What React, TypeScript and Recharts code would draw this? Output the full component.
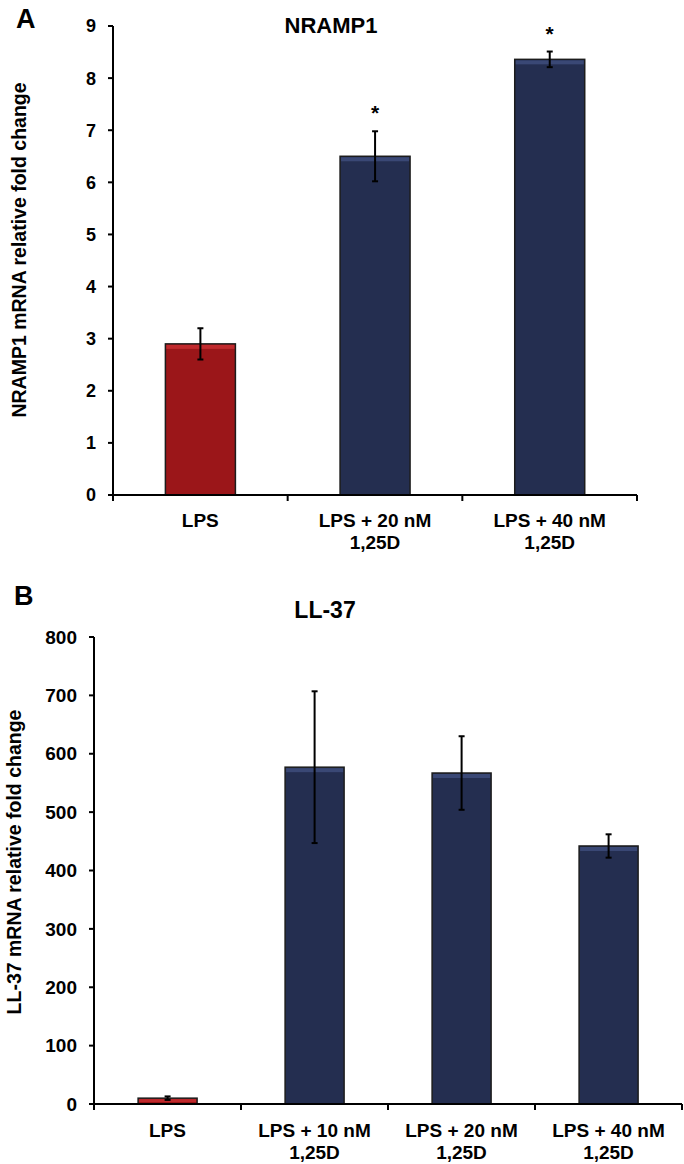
import React from 'react';
import { ComposedChart, BarChart, Bar, Scatter, XAxis, YAxis, ErrorBar, Cell } from 'recharts';

const FONT = '"Liberation Sans", Arial, sans-serif';
const RED = '#9b1619';
const NAVY = '#242e50';

// Panel A - NRAMP1
const nrampGroups = ['LPS', 'LPS + 20 nM\n1,25D', 'LPS + 40 nM\n1,25D'];
const nrampValues = [2.9, 6.5, 8.36];
const nrampErrors = [0.3, 0.48, 0.15];
const nrampSig = ['', '*', '*'];
const nrampTicks = [0, 1, 2, 3, 4, 5, 6, 7, 8, 9];

// Panel B - LL-37
const llGroups = ['LPS', 'LPS + 10 nM\n1,25D', 'LPS + 20 nM\n1,25D', 'LPS + 40 nM\n1,25D'];
const llValues = [10, 577, 567, 442];
const llErrors = [3, 130, 63, 20];
const llTicks = [0, 100, 200, 300, 400, 500, 600, 700, 800];

const barColors = [RED, NAVY, NAVY, NAVY];
const topColors: Record<string, string> = { [RED]: '#c02a2d', [NAVY]: '#3a4875' };

const nrampData = nrampGroups.map((name, i) => ({
  name,
  value: nrampValues[i],
  err: nrampErrors[i],
  star: nrampValues[i] + nrampErrors[i],
  sig: nrampSig[i],
}));

const llData = llGroups.map((name, i) => ({
  name,
  value: llValues[i],
  err: llErrors[i],
}));

const tickStyle = { fill: '#000', fontSize: 18, fontWeight: 'bold', fontFamily: FONT };

// bar with the little light bevel on top, like the original figure
const BevelBar = (props: any) => {
  const { x, y, width, height, fill } = props;
  if (!height || height <= 0) return <g />;
  const strip = Math.min(4, height / 2);
  return (
    <g>
      <rect x={x} y={y} width={width} height={height} fill={fill} stroke="#1c1c1c" strokeWidth={1.5} />
      <rect x={x + 1} y={y + 1} width={Math.max(0, width - 2)} height={strip} fill={topColors[fill] || fill} />
    </g>
  );
};

const CategoryTick = (props: any) => {
  const { x, y, payload, index, firstGap } = props;
  const half = payload.offset || 0;
  const lines = String(payload.value).split('\n');
  return (
    <g>
      {index === 0 && (
        <line x1={x - half} x2={x - half} y1={y} y2={y + 6} stroke="#000" strokeWidth={2} />
      )}
      <line x1={x + half} x2={x + half} y1={y} y2={y + 6} stroke="#000" strokeWidth={2} />
      <text
        x={x}
        y={y + (firstGap || 32)}
        textAnchor="middle"
        fill="#000"
        fontSize={19}
        fontWeight="bold"
        fontFamily={FONT}
      >
        {lines.map((l, i) => (
          <tspan key={i} x={x} dy={i ? 22 : 0}>
            {l}
          </tspan>
        ))}
      </text>
    </g>
  );
};

const Star = (p: any) => {
  if (!p.payload || !p.payload.sig) return <g />;
  return (
    <text
      x={p.cx}
      y={p.cy - 11}
      textAnchor="middle"
      fill="#000"
      fontSize={21}
      fontWeight="bold"
      fontFamily={FONT}
    >
      {p.payload.sig}
    </text>
  );
};

export default function App() {
  return (
    <div style={{ position: 'absolute', left: 0, top: 0, width: 684, height: 1164, background: '#fff' }}>
      <div style={{ position: 'absolute', left: 0, top: 0 }}>
        <ComposedChart
          width={684}
          height={570}
          data={nrampData}
          margin={{ top: 26, right: 47, bottom: 0, left: 0 }}
          barCategoryGap="30%"
        >
          <XAxis
            dataKey="name"
            height={75}
            interval={0}
            tickSize={0}
            tickMargin={0}
            tickLine={false}
            axisLine={{ stroke: '#000', strokeWidth: 2 }}
            tick={<CategoryTick firstGap={32} />}
          />
          <YAxis
            width={113}
            domain={[0, 9]}
            ticks={nrampTicks}
            interval={0}
            tickSize={5}
            tickMargin={12}
            axisLine={{ stroke: '#000', strokeWidth: 2 }}
            tickLine={{ stroke: '#000', strokeWidth: 2 }}
            tick={tickStyle}
          />
          <Bar dataKey="value" shape={<BevelBar />} isAnimationActive={false}>
            {nrampData.map((d, i) => (
              <Cell key={d.name} fill={barColors[i]} />
            ))}
            <ErrorBar dataKey="err" width={3} strokeWidth={2} stroke="#000" direction="y" />
          </Bar>
          <Scatter dataKey="star" shape={<Star />} isAnimationActive={false} />
        </ComposedChart>
      </div>

      <div style={{ position: 'absolute', left: 0, top: 580 }}>
        <BarChart
          width={684}
          height={584}
          data={llData}
          margin={{ top: 57, right: 2, bottom: 0, left: 0 }}
          barCategoryGap="30%"
        >
          <XAxis
            dataKey="name"
            height={60}
            interval={0}
            tickSize={0}
            tickMargin={0}
            tickLine={false}
            axisLine={{ stroke: '#000', strokeWidth: 2 }}
            tick={<CategoryTick firstGap={33} />}
          />
          <YAxis
            width={94}
            domain={[0, 800]}
            ticks={llTicks}
            interval={0}
            tickSize={5}
            tickMargin={12}
            axisLine={{ stroke: '#000', strokeWidth: 2 }}
            tickLine={{ stroke: '#000', strokeWidth: 2 }}
            tick={{ ...tickStyle, fontSize: 19 }}
          />
          <Bar dataKey="value" shape={<BevelBar />} isAnimationActive={false}>
            {llData.map((d, i) => (
              <Cell key={d.name} fill={barColors[i]} />
            ))}
            <ErrorBar dataKey="err" width={3} strokeWidth={2} stroke="#000" direction="y" />
          </Bar>
        </BarChart>
      </div>

      <svg
        width={684}
        height={1164}
        style={{ position: 'absolute', left: 0, top: 0, pointerEvents: 'none' }}
        fontFamily={FONT}
        fontWeight="bold"
        fill="#000"
      >
        <text x={16} y={28} fontSize={27}>A</text>
        <text x={331} y={33} fontSize={22} textAnchor="middle">NRAMP1</text>
        <text
          x={19}
          y={250}
          fontSize={19.5}
          textAnchor="middle"
          dominantBaseline="central"
          transform="rotate(-90 19 250)"
        >
          NRAMP1 mRNA relative fold change
        </text>

        <text x={14} y={605} fontSize={27}>B</text>
        <text x={325} y={618} fontSize={23} textAnchor="middle">LL-37</text>
        <text
          x={14}
          y={862}
          fontSize={19.5}
          textAnchor="middle"
          dominantBaseline="central"
          transform="rotate(-90 14 862)"
        >
          LL-37 mRNA relative fold change
        </text>
      </svg>
    </div>
  );
}
